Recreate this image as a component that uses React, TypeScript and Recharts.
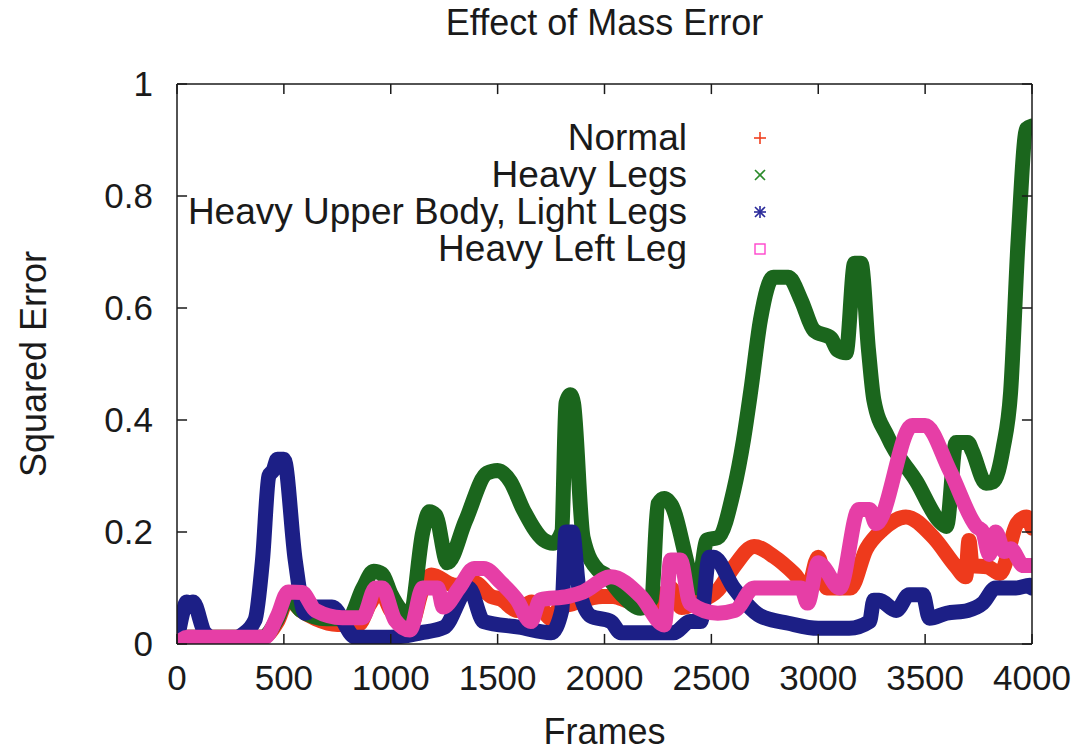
import { Legend, Line, LineChart, ReferenceLine, XAxis, YAxis } from 'recharts';

const xTicks = [0, 500, 1000, 1500, 2000, 2500, 3000, 3500, 4000];
const yTicks = [0, 0.2, 0.4, 0.6, 0.8, 1];

const seriesNames = ['Normal', 'Heavy Legs', 'Heavy Upper Body, Light Legs', 'Heavy Left Leg'];
const seriesColors = ['#ee3a1c', '#1b661d', '#1c1f86', '#e63ea6'];
const markerColors = ['#f04020', '#2a8a2a', '#2a2a9a', '#ff44cc'];

const normalFrames = [0, 50, 400, 470, 520, 580, 650, 750, 850, 900, 950, 1000, 1090, 1150, 1190, 1300, 1390, 1470, 1515, 1590, 1660, 1690, 1750, 1790, 1850, 1990, 2040, 2130, 2200, 2250, 2280, 2310, 2360, 2435, 2530, 2605, 2700, 2793, 2886, 2950, 3000, 3040, 3150, 3225, 3300, 3410, 3540, 3645, 3690, 3705, 3720, 3790, 3850, 3930, 3975, 4000];
const normalValues = [0.005, 0.012, 0.012, 0.04, 0.08, 0.06, 0.045, 0.035, 0.035, 0.07, 0.095, 0.06, 0.03, 0.1, 0.123, 0.105, 0.11, 0.085, 0.08, 0.06, 0.075, 0.072, 0.045, 0.065, 0.072, 0.085, 0.085, 0.075, 0.078, 0.09, 0.06, 0.1, 0.065, 0.075, 0.096, 0.138, 0.174, 0.156, 0.126, 0.1, 0.155, 0.1, 0.1, 0.17, 0.204, 0.227, 0.19, 0.138, 0.12, 0.185, 0.14, 0.138, 0.126, 0.215, 0.227, 0.207];

const legsFrames = [0, 50, 400, 470, 520, 580, 700, 800, 870, 920, 960, 1000, 1090, 1150, 1180, 1210, 1265, 1350, 1450, 1500, 1560, 1620, 1715, 1760, 1800, 1820, 1840, 1855, 1900, 1970, 2000, 2076, 2170, 2220, 2250, 2280, 2310, 2435, 2480, 2530, 2605, 2650, 2685, 2730, 2790, 2860, 2920, 2980, 3060, 3090, 3130, 3170, 3200, 3235, 3260, 3325, 3460, 3565, 3600, 3645, 3700, 3720, 3785, 3820, 3865, 3900, 3935, 3975, 4000];
const legsValues = [0.005, 0.012, 0.012, 0.045, 0.085, 0.06, 0.045, 0.045, 0.1, 0.13, 0.125, 0.09, 0.05, 0.2, 0.236, 0.23, 0.145, 0.22, 0.305, 0.31, 0.29, 0.24, 0.186, 0.18, 0.2, 0.43, 0.445, 0.43, 0.19, 0.132, 0.125, 0.09, 0.064, 0.08, 0.25, 0.26, 0.25, 0.1, 0.186, 0.19, 0.275, 0.364, 0.454, 0.58, 0.655, 0.655, 0.614, 0.56, 0.546, 0.525, 0.52, 0.68, 0.68, 0.525, 0.436, 0.37, 0.29, 0.22, 0.21, 0.36, 0.36, 0.345, 0.287, 0.29, 0.35, 0.45, 0.72, 0.92, 0.925];

const upperFrames = [0, 30, 45, 60, 75, 130, 200, 260, 300, 365, 400, 430, 450, 470, 500, 553, 600, 650, 725, 835, 1000, 1140, 1250, 1365, 1435, 1600, 1750, 1800, 1820, 1850, 1880, 1935, 2030, 2076, 2324, 2400, 2450, 2490, 2510, 2605, 2730, 2860, 3000, 3145, 3240, 3260, 3285, 3365, 3425, 3490, 3520, 3600, 3700, 3770, 3830, 3925, 3990, 4000];
const upperValues = [0.005, 0.06, 0.075, 0.07, 0.075, 0.02, 0.005, 0.005, 0.015, 0.043, 0.15, 0.3, 0.31, 0.33, 0.33, 0.15, 0.055, 0.066, 0.066, 0.012, 0.012, 0.02, 0.03, 0.1, 0.04, 0.03, 0.02, 0.06, 0.2, 0.2, 0.1, 0.05, 0.04, 0.02, 0.02, 0.04, 0.04, 0.155, 0.155, 0.1, 0.05, 0.037, 0.028, 0.028, 0.04, 0.078, 0.078, 0.06, 0.088, 0.088, 0.046, 0.055, 0.06, 0.073, 0.1, 0.1, 0.105, 0.1];

const leftFrames = [0, 50, 410, 470, 520, 585, 647, 773, 867, 930, 960, 1020, 1090, 1150, 1220, 1245, 1320, 1390, 1435, 1515, 1590, 1655, 1700, 1830, 1900, 2030, 2170, 2280, 2310, 2355, 2400, 2530, 2610, 2700, 2920, 2950, 3000, 3020, 3100, 3190, 3240, 3270, 3440, 3500, 3615, 3740, 3770, 3800, 3830, 3870, 3900, 3960, 4000];
const leftValues = [0, 0.012, 0.012, 0.05, 0.093, 0.092, 0.06, 0.047, 0.047, 0.1, 0.1, 0.043, 0.025, 0.1, 0.1, 0.066, 0.1, 0.135, 0.135, 0.11, 0.079, 0.04, 0.079, 0.085, 0.093, 0.12, 0.085, 0.034, 0.15, 0.15, 0.073, 0.055, 0.06, 0.1, 0.1, 0.073, 0.145, 0.14, 0.1, 0.24, 0.24, 0.215, 0.39, 0.39, 0.31, 0.21, 0.2, 0.16, 0.2, 0.165, 0.17, 0.14, 0.14];

const toRows = (frames: number[], values: number[]) =>
  frames.map((frame, i) => ({ frame, value: values[i] }));

const series = [
  toRows(normalFrames, normalValues),
  toRows(legsFrames, legsValues),
  toRows(upperFrames, upperValues),
  toRows(leftFrames, leftValues),
];

const font = '"Liberation Sans", Arial, Helvetica, sans-serif';
const ink = '#1a1a1a';
const tickStyle = { fontSize: 35, fill: ink, fontFamily: font };
const frameLine = { stroke: ink, strokeWidth: 1.5 };

// inward tick length (~10px) in data units
const xTickLen = 0.018;
const yTickLen = 47;

function BottomTick({ x, y, payload }: any) {
  return (
    <text x={x} y={y + 21} dy="0.71em" textAnchor="middle" {...tickStyle}>
      {payload.value}
    </text>
  );
}

function LeftTick({ x, y, payload }: any) {
  return (
    <text x={x - 24} y={y} dy="0.355em" textAnchor="end" {...tickStyle}>
      {payload.value}
    </text>
  );
}

function Marker({ i }: { i: number }) {
  const c = markerColors[i];
  return (
    <svg width={14} height={14} style={{ display: 'block' }}>
      {(i === 0 || i === 2) && (
        <>
          <line x1={7} y1={1} x2={7} y2={13} stroke={c} strokeWidth={1.6} />
          <line x1={1} y1={7} x2={13} y2={7} stroke={c} strokeWidth={1.6} />
        </>
      )}
      {(i === 1 || i === 2) && (
        <>
          <line x1={2} y1={2} x2={12} y2={12} stroke={c} strokeWidth={1.6} />
          <line x1={12} y1={2} x2={2} y2={12} stroke={c} strokeWidth={1.6} />
        </>
      )}
      {i === 3 && <rect x={2} y={2} width={10} height={10} fill="none" stroke={c} strokeWidth={1.4} />}
    </svg>
  );
}

function LegendBox() {
  return (
    <div style={{ fontFamily: font, fontSize: 37, color: ink }}>
      {seriesNames.map((name, i) => (
        <div key={name} style={{ display: 'flex', alignItems: 'center', height: 37 }}>
          <div style={{ width: 579, textAlign: 'right', lineHeight: '37px', whiteSpace: 'nowrap' }}>{name}</div>
          <div style={{ marginLeft: 66 }}>
            <Marker i={i} />
          </div>
        </div>
      ))}
    </div>
  );
}

export default function App() {
  return (
    <div style={{ position: 'relative', width: 1073, height: 745 }}>
      <div
        style={{
          position: 'absolute',
          top: -3,
          left: 169,
          width: 855,
          textAlign: 'center',
          fontFamily: font,
          fontSize: 36,
          lineHeight: '36px',
          color: ink,
        }}
      >
        Effect of Mass Error
      </div>
      <LineChart width={1073} height={745} margin={{ top: 46, right: 19, bottom: 4, left: 9 }}>
        <XAxis
          dataKey="frame"
          type="number"
          domain={[0, 4000]}
          ticks={xTicks}
          interval={0}
          allowDataOverflow
          height={105}
          tickSize={0}
          tickMargin={0}
          tickLine={false}
          tick={<BottomTick />}
          axisLine={frameLine}
          label={{ value: 'Frames', position: 'insideBottom', offset: 5, style: { ...tickStyle, fontSize: 36 } }}
        />
        <XAxis
          xAxisId="top"
          orientation="top"
          dataKey="frame"
          type="number"
          domain={[0, 4000]}
          ticks={xTicks}
          allowDataOverflow
          height={30}
          tickLine={false}
          tick={false}
          axisLine={frameLine}
        />
        <YAxis
          type="number"
          domain={[0, 1]}
          ticks={yTicks}
          interval={0}
          allowDataOverflow
          width={160}
          tickSize={0}
          tickMargin={0}
          tickLine={false}
          tick={<LeftTick />}
          axisLine={frameLine}
          label={{
            value: 'Squared Error',
            angle: -90,
            position: 'insideLeft',
            offset: 16,
            style: { ...tickStyle, fontSize: 36, textAnchor: 'middle' },
          }}
        />
        <YAxis
          yAxisId="right"
          orientation="right"
          type="number"
          domain={[0, 1]}
          ticks={yTicks}
          allowDataOverflow
          width={30}
          tickLine={false}
          tick={false}
          axisLine={frameLine}
        />
        <Legend
          layout="vertical"
          align="center"
          verticalAlign="middle"
          wrapperStyle={{ top: 111, left: 100, width: 690 }}
          content={() => <LegendBox />}
        />
        {series.map((rows, i) => (
          <Line
            key={seriesNames[i]}
            data={rows}
            dataKey="value"
            name={seriesNames[i]}
            type="monotone"
            stroke={seriesColors[i]}
            strokeWidth={15}
            strokeLinejoin="round"
            strokeLinecap="round"
            dot={false}
            activeDot={false}
            isAnimationActive={false}
          />
        ))}
        {/* invisible copy so the mirrored top/right axes get drawn */}
        <Line
          data={series[0]}
          dataKey="value"
          xAxisId="top"
          yAxisId="right"
          stroke="none"
          dot={false}
          activeDot={false}
          legendType="none"
          isAnimationActive={false}
        />
        {xTicks.map((t) => (
          <ReferenceLine key={`b${t}`} segment={[{ x: t, y: 0 }, { x: t, y: xTickLen }]} stroke={ink} strokeWidth={1.5} />
        ))}
        {xTicks.map((t) => (
          <ReferenceLine key={`t${t}`} segment={[{ x: t, y: 1 - xTickLen }, { x: t, y: 1 }]} stroke={ink} strokeWidth={1.5} />
        ))}
        {yTicks.map((t) => (
          <ReferenceLine key={`l${t}`} segment={[{ x: 0, y: t }, { x: yTickLen, y: t }]} stroke={ink} strokeWidth={1.5} />
        ))}
        {yTicks.map((t) => (
          <ReferenceLine key={`r${t}`} segment={[{ x: 4000 - yTickLen, y: t }, { x: 4000, y: t }]} stroke={ink} strokeWidth={1.5} />
        ))}
      </LineChart>
    </div>
  );
}
